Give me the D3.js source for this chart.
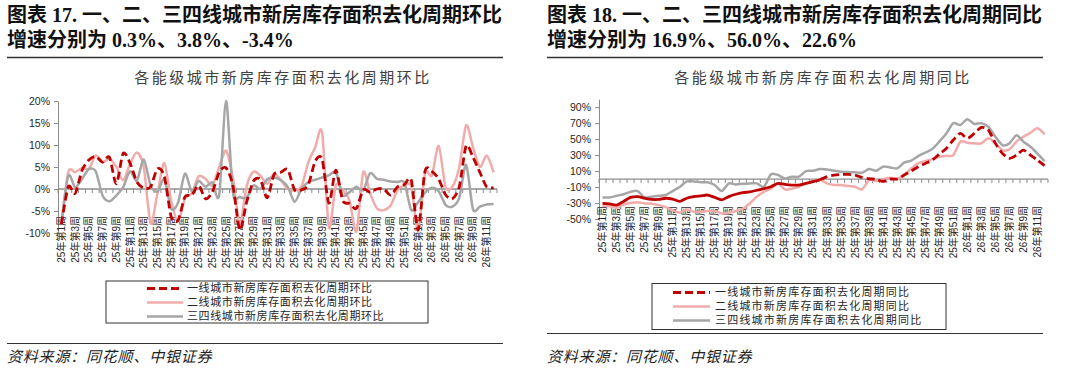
<!DOCTYPE html>
<meta charset="utf-8">
<style>
  body { margin: 0; background: #fff; }
  text { font-family: "Liberation Sans", Arial, "Noto Sans CJK SC", sans-serif; }
</style>
<body>
<script src="https://cdn.jsdelivr.net/npm/d3@7/dist/d3.min.js"></script>
<script>

// Week categories, 25年第1周 .. 26年第12周
var weeks = ["25年第1周","25年第2周","25年第3周","25年第4周","25年第5周","25年第6周","25年第7周","25年第8周",
  "25年第9周","25年第10周","25年第11周","25年第12周","25年第13周","25年第14周","25年第15周","25年第16周",
  "25年第17周","25年第18周","25年第19周","25年第20周","25年第21周","25年第22周","25年第23周","25年第24周",
  "25年第25周","25年第26周","25年第27周","25年第28周","25年第29周","25年第30周","25年第31周","25年第32周",
  "25年第33周","25年第34周","25年第35周","25年第36周","25年第37周","25年第38周","25年第39周","25年第40周",
  "25年第41周","25年第42周","25年第43周","25年第44周","25年第45周","25年第46周","25年第47周","25年第48周",
  "25年第49周","25年第50周","25年第51周","25年第52周","26年第1周","26年第2周","26年第3周","26年第4周",
  "26年第5周","26年第6周","26年第7周","26年第8周","26年第9周","26年第10周","26年第11周","26年第12周"];

// 环比 (%)
var hb1 = [-8,0.5,-1,4.2,6.6,7.4,6.1,7.2,1.2,8.1,5.9,1.6,0.2,0.5,4.6,2.9,-6.3,-7.1,-1.8,-1.4,
  0.8,-2.2,-0.7,3.8,4.8,0.8,-9.3,-3,1.8,2.2,-2,3.3,3.8,4.4,-0.2,-0.2,1,6.3,6.8,-3.2,
  4.3,-2.6,-3.3,-4.4,-0.2,-0.7,0,0,-1.4,0.5,1,2,-9.3,4,4,2.3,-1.3,-2.2,0.5,9.8,
  7.2,3.8,0.5,0.3];
var hb2 = [-8,3.8,3.8,4.8,4.6,7.6,6.1,6.8,5.1,2,5.7,8.3,5,-7.8,-1,5.9,-2.6,-7.4,-2.2,-1,
  2.9,2.3,0.8,5,8.7,2.5,-8,0.6,3.9,3,1.2,3.5,2,0,-0.3,0.6,6.1,9.5,12.9,-8.8,
  0.8,-0.3,-2.6,-9.7,3.8,-1,-4.4,-4.8,-3.7,-0.3,0.8,0.5,-9.5,3.5,3.1,9.8,0.5,0.5,5,14.5,
  9.5,5,7.6,3.8];
var hb34 = [-8,3,0.4,2.3,4.5,4,-1.5,-2.8,-1.5,0.4,4,1.9,6.7,0.8,-0.6,2.2,-4.5,-3.1,3.5,-0.5,
  1.8,0.5,1.5,-1.4,20,-0.8,-1.8,-2,0.8,0,2.2,2.6,2,0.5,-2.9,0,1.6,2.1,2.6,3.1,
  3.8,-1.4,-0.7,0.5,-0.3,3.6,2.3,2.1,1.7,1.6,1.4,-4.8,-3,-0.8,0.3,-0.5,-3.6,-4,-2,5.5,
  -4.6,-4,-3.5,-3.4];

// 同比 (%)
var tb1 = [-30.5,-31,-32.6,-28,-23,-22,-24,-25.5,-25.5,-24,-25,-28,-24,-22,-21,-20,-23,-26,-22,-19,
  -17,-16,-14,-12,-9.6,-5.4,-6.7,-7.5,-7.5,-5.4,-3.3,-1,3,5,5.8,5.8,5,2,0.4,-0.4,
  -3,0,0,5,10,15.5,19.6,23.8,31.3,38.4,48.9,57.2,51,57.2,64.7,61.4,44.7,32.2,25.9,30,
  36.3,30,23.8,16.9];
var tb2 = [-33,-34,-36,-32,-30,-29,-30.5,-31,-32.6,-35,-39,-42,-38,-41,-41,-40,-40,-43,-42,-40,
  -37,-30.5,-22,-16,-12,-5.4,-13,-12,-9.6,-5.4,-2.5,-0.5,-5.4,-7.5,-7.5,-8.8,-9.6,-13,-1.3,-2.5,
  -0.4,1.7,0.4,5,13.4,19.6,22.6,24.6,28,29.2,30,46.8,45.5,44.7,44.7,51,44.7,36.3,37.2,46.8,
  53,58,63.5,56];
var tb34 = [-23,-23,-21,-19,-16,-15,-23,-22,-21,-20,-15,-10,-3,-3,-4,-4,-7.5,-15,-5.4,-6.7,
  -5.8,-5.4,-5.4,-9.6,5.8,5,0.8,3,3,10,10.4,12.5,12,10.4,9.2,8.8,8.4,8,12.5,10.4,
  15.5,14.6,13.4,20.5,23,28.8,33,37.6,46.8,57,70,67.7,74.8,69,70,65.6,53,42.6,44.7,55,
  46.8,40.5,32,22.6];

var hbTicks = [-10, -5, 0, 5, 10, 15, 20];
var tbTicks = [-50, -30, -10, 10, 30, 50, 70, 90];

var hbNames = ["一线城市新房库存面积去化周期环比", "二线城市新房库存面积去化周期环比", "三四线城市新房库存面积去化周期环比"];
var tbNames = ["一线城市新房库存面积去化周期同比", "二线城市新房库存面积去化周期同比", "三四线城市新房库存面积去化周期同比"];

var colors = ["#c00000", "#f2abab", "#a6a6a6"];

var svg = d3.select("body").append("svg")
    .attr("width", 1080)
    .attr("height", 371);

function drawPanel(p) {
  var g = svg.append("g").attr("transform", "translate(" + p.dx + ",0)");

  // heading
  var head = g.append("text")
      .attr("x", 7)
      .style("font-family", "'Liberation Serif', 'Times New Roman', 'Noto Sans CJK SC', serif")
      .style("font-weight", "bold")
      .style("font-size", "20px")
      .attr("fill", "#111");
  head.append("tspan").attr("x", 7).attr("y", 22).text(p.head1);
  head.append("tspan").attr("x", 7).attr("y", 47).text(p.head2);

  g.append("line").attr("x1", 7).attr("x2", 503).attr("y1", 57.5).attr("y2", 57.5)
      .attr("stroke", "#333").attr("stroke-width", 1.5);

  g.append("text")
      .attr("x", 283).attr("y", 83)
      .attr("text-anchor", "middle")
      .style("font-family", "'Noto Sans CJK SC', sans-serif")
      .style("font-size", "15px")
      .style("letter-spacing", "2.5px")
      .attr("fill", "#404040")
      .text(p.title);

  // scales
  var x = d3.scaleBand().domain(weeks).range(p.xRange);
  var y = d3.scaleLinear().domain(p.yDomain).range(p.yRange);
  var bw = x.bandwidth();
  var gp = svg.append("g");

  // y axis
  var ya = gp.append("g")
      .attr("transform", "translate(" + p.xRange[0] + ",0)")
      .call(d3.axisLeft(y).tickValues(p.ticks).tickSize(4).tickSizeOuter(0).tickPadding(4)
        .tickFormat(function(d) { return d + "%"; }));
  ya.select(".domain").attr("stroke", "#8c8c8c");
  ya.selectAll(".tick line").attr("stroke", "#8c8c8c");
  ya.selectAll("text").style("font-size", "10.5px").attr("fill", "#262626")
      .style("font-family", "'Liberation Sans', Arial, sans-serif");

  // x axis at zero
  gp.append("line")
      .attr("x1", p.xRange[0]).attr("x2", p.xRange[1])
      .attr("y1", y(0)).attr("y2", y(0))
      .attr("stroke", "#8c8c8c").attr("stroke-width", 1.3);
  gp.selectAll(".xt")
      .data(weeks.concat(["end"]))
    .enter().append("line")
      .attr("x1", function(d) { return d == "end" ? p.xRange[1] : x(d); })
      .attr("x2", function(d) { return d == "end" ? p.xRange[1] : x(d); })
      .attr("y1", y(0)).attr("y2", y(0) + 4)
      .attr("stroke", "#8c8c8c");

  // category labels
  gp.selectAll(".xl")
      .data(weeks.filter(function(d, i) { return i % 2 == 0; }))
    .enter().append("text")
      .attr("transform", function(d) { return "translate(" + (x(d) + bw / 2) + "," + p.labelTop + ") rotate(-90)"; })
      .attr("text-anchor", "end")
      .attr("dy", "0.35em")
      .style("font-size", "10px")
      .attr("fill", "#262626")
      .text(function(d) { return d; });

  // lines
  function mkLine(keep) {
    return d3.line()
        .defined(function(d, i) { return keep(i); })
        .x(function(d, i) { return x(weeks[i]) + bw / 2; })
        .y(function(d) { return y(d); })
        .curve(d3.curveCardinal.tension(0.2));
  }
  var line = mkLine(function() { return true; });

  gp.append("path").datum(p.series[1])
      .attr("d", line).attr("fill", "none")
      .attr("stroke", colors[1]).attr("stroke-width", 2.5);
  gp.append("path").datum(p.series[2])
      .attr("d", line).attr("fill", "none")
      .attr("stroke", colors[2]).attr("stroke-width", 2.5);

  if (p.solidUntil) {
    gp.append("path").datum(p.series[0])
        .attr("d", mkLine(function(i) { return i <= p.solidUntil; })).attr("fill", "none")
        .attr("stroke", colors[0]).attr("stroke-width", 2.8);
    gp.append("path").datum(p.series[0])
        .attr("d", mkLine(function(i) { return i >= p.solidUntil; })).attr("fill", "none")
        .attr("stroke", colors[0]).attr("stroke-width", 2.8)
        .attr("stroke-dasharray", "8,4");
  } else {
    gp.append("path").datum(p.series[0])
        .attr("d", line).attr("fill", "none")
        .attr("stroke", colors[0]).attr("stroke-width", 2.8)
        .attr("stroke-dasharray", "8,4");
  }

  // legend
  var L = p.legend;
  var lg = g.append("g");
  lg.append("rect")
      .attr("x", L.x).attr("y", L.y).attr("width", L.w).attr("height", L.h)
      .attr("fill", "#fff").attr("stroke", "#333").attr("stroke-width", 1);
  p.names.forEach(function(n, i) {
    var ly = L.row0 + i * L.step;
    lg.append("line")
        .attr("x1", L.s0).attr("x2", L.s1).attr("y1", ly).attr("y2", ly)
        .attr("stroke", colors[i]).attr("stroke-width", i == 0 ? 2.8 : 2.5)
        .attr("stroke-dasharray", i == 0 ? "8,4" : null);
    lg.append("text")
        .attr("x", L.tx).attr("y", ly).attr("dy", "0.35em")
        .style("font-family", "'Noto Sans CJK SC', sans-serif")
        .style("font-size", L.fs + "px")
        .style("letter-spacing", L.ls + "px")
        .attr("fill", "#262626")
        .text(n);
  });

  // source
  g.append("line").attr("x1", 7).attr("x2", 503).attr("y1", p.ruleY).attr("y2", p.ruleY)
      .attr("stroke", "#333").attr("stroke-width", 1.2);
  g.append("text")
      .attr("x", 7).attr("y", 362)
      .style("font-family", "'Noto Sans CJK SC', sans-serif")
      .style("font-style", "italic")
      .style("font-size", "15px")
      .style("letter-spacing", "0.8px")
      .attr("fill", "#222")
      .text("资料来源：同花顺、中银证券");
}

drawPanel({
  dx: 0,
  head1: "图表 17. 一、二、三四线城市新房库存面积去化周期环比",
  head2: "增速分别为 0.3%、3.8%、-3.4%",
  title: "各能级城市新房库存面积去化周期环比",
  xRange: [58, 497],
  yDomain: [-10, 20],
  yRange: [233, 101],
  ticks: hbTicks,
  labelTop: 216,
  series: [hb1, hb2, hb34],
  names: hbNames,
  legend: {x: 106, y: 281, w: 322, h: 42, s0: 147, s1: 183, tx: 187, row0: 288.5, step: 14, fs: 11, ls: 0.6},
  ruleY: 343.5
});

drawPanel({
  dx: 540,
  head1: "图表 18. 一、二、三四线城市新房库存面积去化周期同比",
  head2: "增速分别为 16.9%、56.0%、22.6%",
  title: "各能级城市新房库存面积去化周期同比",
  xRange: [599, 1048],
  yDomain: [-50, 100],
  yRange: [219, 99.2],
  ticks: tbTicks,
  labelTop: 206,
  series: [tb1, tb2, tb34],
  names: tbNames,
  solidUntil: 31,
  legend: {x: 112, y: 283.5, w: 294, h: 46, s0: 133, s1: 170, tx: 175, row0: 292.5, step: 14, fs: 11, ls: 1.2},
  ruleY: 333.5
});

</script>
</body>
